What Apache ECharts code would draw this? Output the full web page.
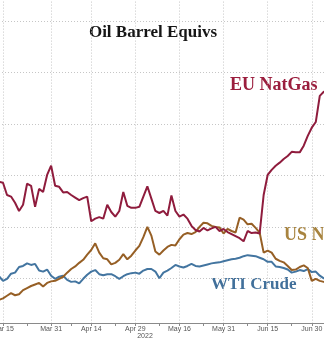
<!DOCTYPE html>
<html>
<head>
<meta charset="utf-8">
<script src="https://cdn.jsdelivr.net/npm/echarts@6/dist/echarts.min.js"></script>
<style>
html,body{margin:0;padding:0;background:#fff;}
#chart{width:324px;height:341px;}
</style>
</head>
<body>
<div id="chart"></div>
<script>
// Weekday categories, Mar 14 2022 .. Jul 6 2022
const monthNames = ['Jan','Feb','Mar','Apr','May','Jun','Jul','Aug','Sep','Oct','Nov','Dec'];
const startDate = Date.UTC(2022, 2, 14);
const endDate = Date.UTC(2022, 6, 6);
const categories = [];
for (let t = startDate; t <= endDate; t += 86400000) {
  const d = new Date(t);
  const wd = d.getUTCDay();
  if (wd !== 0 && wd !== 6) categories.push(monthNames[d.getUTCMonth()] + ' ' + d.getUTCDate());
}

const tickLabels = ['Mar 15','Mar 31','Apr 14','Apr 29','May 16','May 31','Jun 15','Jun 30'];
const yearLabel = '2022';
const titleText = 'Oil Barrel Equivs';

const euNatGas = [2.88,2.86,2.62,2.59,2.47,2.31,2.43,2.84,2.80,2.39,
  2.74,2.68,3.01,3.19,2.80,2.78,2.67,2.68,2.62,2.57,
  2.52,2.56,2.59,2.11,2.16,2.19,2.16,2.43,2.29,2.20,
  2.31,2.68,2.41,2.37,2.37,2.39,2.59,2.79,2.55,2.31,
  2.27,2.31,2.22,2.61,2.31,2.20,2.24,2.16,2.02,1.94,
  1.91,1.98,1.93,1.97,2.00,1.92,1.96,1.90,1.86,1.82,
  1.78,1.72,1.92,1.88,1.89,1.87,2.62,3.01,3.11,3.19,
  3.25,3.32,3.38,3.46,3.45,3.45,3.58,3.77,3.93,4.04,
  4.55,4.63,4.63];

const usNatGas = [0.58,0.61,0.66,0.71,0.67,0.69,0.77,0.81,0.85,0.88,
  0.91,0.84,0.91,0.94,0.95,0.99,1.03,1.11,1.18,1.23,
  1.30,1.36,1.46,1.55,1.68,1.50,1.39,1.37,1.27,1.30,
  1.36,1.47,1.37,1.44,1.54,1.63,1.80,2.00,1.83,1.52,
  1.46,1.54,1.61,1.65,1.64,1.76,1.85,1.88,1.86,1.90,
  2.00,2.08,2.07,2.02,2.00,1.99,1.87,1.96,1.92,1.89,
  2.18,2.14,2.05,2.06,1.98,1.89,1.50,1.54,1.50,1.38,
  1.34,1.31,1.24,1.16,1.17,1.22,1.25,1.20,0.95,0.99,
  0.95,0.93,0.91];

const wtiCrude = [1.04,0.95,0.99,1.09,1.11,1.22,1.24,1.29,1.26,1.28,
  1.15,1.13,1.17,1.05,0.99,1.03,1.05,0.97,0.93,0.94,
  0.90,0.99,1.07,1.13,1.16,1.08,1.06,1.08,1.08,1.04,
  0.99,1.04,1.08,1.10,1.11,1.09,1.15,1.18,1.18,1.13,
  1.00,1.11,1.15,1.20,1.26,1.23,1.21,1.24,1.28,1.24,
  1.23,1.25,1.27,1.29,1.30,1.31,1.33,1.35,1.37,1.38,
  1.40,1.43,1.45,1.44,1.43,1.40,1.37,1.32,1.32,1.23,
  1.22,1.20,1.17,1.11,1.13,1.16,1.14,1.18,1.12,1.13,
  1.05,1.00,0.99];

const seriesNames = ['EU NatGas','US NatGas','WTI Crude'];

// tick positions: labeled dates plus midpoints between them
const labelIdx = tickLabels.map(l => categories.indexOf(l));
const tickIdx = new Set(labelIdx);
for (let k = 0; k < labelIdx.length - 1; k++) tickIdx.add(Math.round((labelIdx[k] + labelIdx[k+1]) / 2));

const chart = echarts.init(document.getElementById('chart'), null, {renderer: 'canvas'});
const gridStyle = {color: '#c6c6c6', width: 1, type: [1, 2]};
chart.setOption({
  backgroundColor: '#ffffff',
  animation: false,
  grid: {left: -1, width: 328.8, bottom: 18, top: -4.4, containLabel: false, outerBoundsMode: 'none'},
  xAxis: {
    type: 'category',
    data: categories,
    boundaryGap: false,
    axisLine: {show: true, lineStyle: {color: '#8a8a8a', width: 1}},
    axisTick: {show: true, length: 3, interval: (i) => tickIdx.has(i), lineStyle: {color: '#8a8a8a'}},
    axisLabel: {
      interval: (i, v) => tickLabels.includes(v),
      color: '#555', fontSize: 7, fontFamily: 'Liberation Sans', margin: 3,
      alignMinLabel: 'center', alignMaxLabel: 'center', hideOverlap: false
    },
    splitLine: {show: true, interval: (i, v) => tickLabels.includes(v), lineStyle: gridStyle}
  },
  yAxis: {
    type: 'value',
    min: 0.13, max: 6.5,
    splitNumber: 6, minInterval: 1, maxInterval: 1,
    axisLine: {show: false}, axisTick: {show: false}, axisLabel: {show: false},
    splitLine: {show: true, showMinLine: false, showMaxLine: false, lineStyle: gridStyle}
  },
  series: [
    {name: seriesNames[2], type: 'line', data: wtiCrude, symbol: 'none', lineStyle: {color: '#4375a0', width: 2}},
    {name: seriesNames[1], type: 'line', data: usNatGas, symbol: 'none', lineStyle: {color: '#965f25', width: 2}},
    {name: seriesNames[0], type: 'line', data: euNatGas, symbol: 'none', lineStyle: {color: '#8f1c3d', width: 2}}
  ],
  graphic: [
    {type: 'text', x: 153, y: 33, style: {text: titleText, fill: '#151515', font: 'bold 17px "Liberation Serif"', textAlign: 'center', textVerticalAlign: 'middle'}},
    {type: 'text', x: 230, y: 85, style: {text: seriesNames[0], fill: '#9b1e3e', font: 'bold 18px "Liberation Serif"', textAlign: 'left', textVerticalAlign: 'middle'}},
    {type: 'text', x: 284, y: 235, style: {text: seriesNames[1], fill: '#a8843f', font: 'bold 18px "Liberation Serif"', textAlign: 'left', textVerticalAlign: 'middle'}},
    {type: 'text', x: 211, y: 285, style: {text: seriesNames[2], fill: '#41709b', font: 'bold 17px "Liberation Serif"', textAlign: 'left', textVerticalAlign: 'middle'}},
    {type: 'text', x: 145, y: 336.5, style: {text: yearLabel, fill: '#555', font: '7px "Liberation Sans"', textAlign: 'center', textVerticalAlign: 'middle'}}
  ]
});
</script>
</body>
</html>
